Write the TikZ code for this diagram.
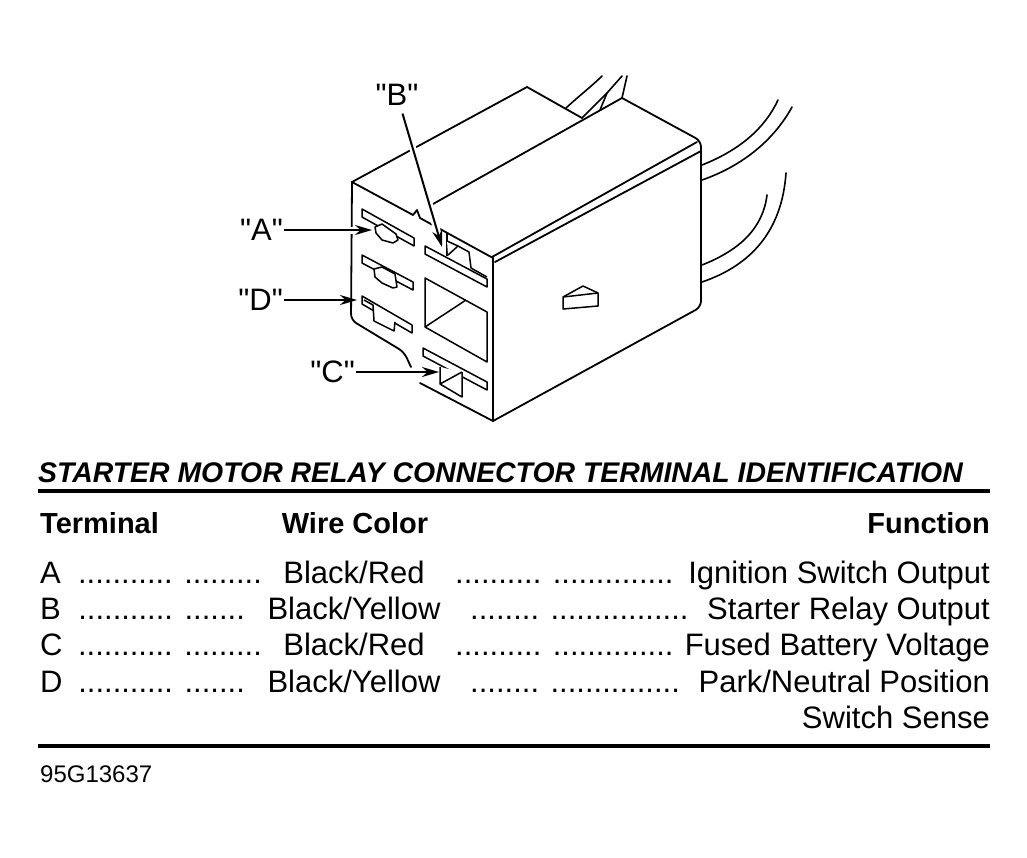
\documentclass[tikz,border=0pt]{standalone}
\usepackage{fontspec}
\setmainfont{Liberation Sans}[Ligatures=TeXOff]
\usetikzlibrary{arrows.meta}

\tikzset{
	body/.style={line width=1.8pt, line join=round, line cap=round},
	part/.style={line width=1.5pt, line join=round, fill=white},
	wire/.style={line width=1.6pt, line cap=round},
	lbl/.style={font=\fontsize{31}{34}\selectfont, inner sep=1pt},
	callout/.style={line width=2pt, -{Stealth[length=17pt,width=10pt]},
		preaction={draw=white, line width=7pt, arrows=-, shorten >=17pt}},
	rule/.style={line width=3.5pt},
	txt/.style={font=\fontsize{31}{34}\selectfont, inner sep=0pt},
	head/.style={font=\bfseries\fontsize{29}{32}\selectfont, inner sep=0pt},
}

\begin{document}
\begin{tikzpicture}[x=1pt, y=-1pt]
			\useasboundingbox (0,0) rectangle (1027,857);
			%%%%% CONNECTOR %%%%%
			
			\draw[body] (352,182) -- (413,215) -- (417,210) -- (420,218) -- (493,258);
			\draw[body, rounded corners=6pt] (352,182) -- (351,320) -- (404,352) -- (411,367);
			\draw[body] (420,383) -- (493,421);
			\draw[body] (493,258) -- (493,421);
			
			\draw[body] (352,182) -- (527,87) -- (582,118);
			\draw[body] (433,204) -- (622,98);
			\draw[body, rounded corners=6pt] (622,98) -- (701,141) -- (701,307) -- (493,421);
			\draw[body] (492,257) -- (697,142);
			\draw[body] (495,262) -- (701,151);
			
			\draw[wire] (566,108) .. controls (580,95) and (592,86) .. (602,76);
			\draw[wire] (582,118) -- (607,93) -- (622,76);
			\draw[wire] (600,110) -- (607,93);
			\draw[wire] (622,98) -- (627,76);
			
			\draw[wire] (702,165) .. controls (740,150) and (765,128) .. (778,100);
			\draw[wire] (702,180) .. controls (745,165) and (775,138) .. (792,107);
			\draw[wire] (702,265) .. controls (740,250) and (763,228) .. (767,195);
			\draw[wire] (702,282) .. controls (752,265) and (782,230) .. (786,173);
			
			\draw[part] (563,297) -- (583,286) -- (598,293) -- (598,306) -- (563,309) -- cycle;
			\draw[part] (563,297) -- (598,293);
			
			\draw[part] (362,209) -- (414,238) -- (414,246) -- (362,217) -- cycle;
			\draw[part] (375,227) -- (382,224) -- (396,234) -- (398,240) -- (393,243) -- (382,240) -- (376,233) -- cycle;
			
			\draw[part] (362,255) -- (413,282) -- (413,290) -- (362,263) -- cycle;
			\draw[part] (374,269) -- (382,267) -- (395,274) -- (397,287) -- (393,288) -- (382,283) -- (375,277) -- cycle;
			
			\draw[part] (362,296) -- (412,325) -- (412,333) -- (362,304) -- cycle;
			\draw[part] (364,300) -- (373,305) -- (374,321) -- (394,331) -- (395,322);
			
			\draw[part] (425,246) -- (487,279) -- (487,287) -- (425,254) -- cycle;
			\draw[part] (447,233) -- (447,256);
			\draw[part] (447,241) -- (458,246) -- (448,255);
			\draw[part] (458,246) -- (469,252) -- (471,268) -- (487,277);
			
			\draw[part] (425,278) -- (487,312) -- (487,362) -- (425,327) -- cycle;
			\draw[part] (425,327) -- (466,300);
			
			\draw[part] (423,348) -- (487,382) -- (487,390) -- (423,356) -- cycle;
			\draw[part] (440,367) -- (440,384) -- (462,397) -- (462,372);
			\draw[part] (440,384) -- (462,372);
			
			\node[lbl, anchor=east] (lblA) at (284,230) {"A"};
			\node[lbl] (lblB) at (397,95) {"B"};
			\node[lbl, anchor=east] (lblD) at (284,300) {"D"};
			\node[lbl, anchor=east] (lblC) at (356,372) {"C"};
			\coordinate (tipA) at (372,230);
			\coordinate (tipB) at (442,247);
			\coordinate (tipD) at (357,300);
			\coordinate (tipC) at (439,372);
			
			\draw[callout] (lblA) -- (tipA);
			\draw[callout, shorten <=7pt] (lblB) -- (tipB);
			\draw[callout] (lblD) -- (tipD);
			\draw[callout] (lblC) -- (tipC);
			
			%%%%% TABLE %%%%%
			
			\node[anchor=base west, inner sep=0pt, font=\bfseries\itshape\fontsize{28.4}{30}\selectfont] (title) at (38,482) {STARTER MOTOR RELAY CONNECTOR TERMINAL IDENTIFICATION};
			\draw[rule] (38,491) -- (990,491);
			
			\node[head, anchor=base west] (hdTerm) at (40,533) {Terminal};
			\node[head, anchor=base] (hdWire) at (355,533) {Wire Color};
			\node[head, anchor=base east] (hdFunc) at (990,533) {Function};
			
			\node[txt, anchor=base west] (tA) at (40,583) {A};
			\node[txt, anchor=base east] (dA1) at (262,583) {........... .........};
			\node[txt, anchor=base] (wA) at (354,583) {Black/Red};
			\node[txt, anchor=base west] (dA2) at (455,583) {.......... ..............};
			\node[txt, anchor=base east] (fA) at (990,583) {Ignition Switch Output};
			
			\node[txt, anchor=base west] (tB) at (40,619) {B};
			\node[txt, anchor=base east] (dB1) at (245,619) {........... .......};
			\node[txt, anchor=base] (wB) at (354,619) {Black/Yellow};
			\node[txt, anchor=base west] (dB2) at (470,619) {........ ................};
			\node[txt, anchor=base east] (fB) at (990,619) {Starter Relay Output};
			
			\node[txt, anchor=base west] (tC) at (40,655) {C};
			\node[txt, anchor=base east] (dC1) at (262,655) {........... .........};
			\node[txt, anchor=base] (wC) at (354,655) {Black/Red};
			\node[txt, anchor=base west] (dC2) at (455,655) {.......... ..............};
			\node[txt, anchor=base east] (fC) at (990,655) {Fused Battery Voltage};
			
			\node[txt, anchor=base west] (tD) at (40,692) {D};
			\node[txt, anchor=base east] (dD1) at (245,692) {........... .......};
			\node[txt, anchor=base] (wD) at (354,692) {Black/Yellow};
			\node[txt, anchor=base west] (dD2) at (470,692) {........ ...............};
			\node[txt, anchor=base east] (fD) at (990,692) {Park/Neutral Position};
			\node[txt, anchor=base east] (fD2) at (990,728) {Switch Sense};
			
			\draw[rule] (38,746) -- (990,746);
			\node[anchor=base west, inner sep=0pt, font=\fontsize{24}{26}\selectfont] (figno) at (40,782) {95G13637};
			
			%%%%% END %%%%%
\end{tikzpicture}
\end{document}
